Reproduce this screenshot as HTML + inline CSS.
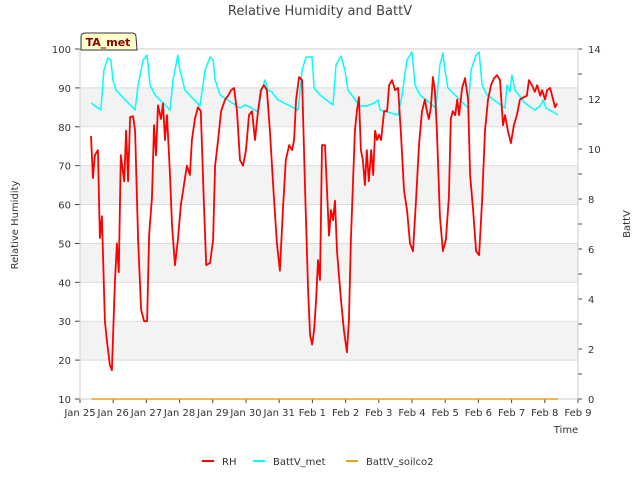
<!DOCTYPE html>
<html><head><meta charset="utf-8"><style>
body{margin:0;background:#fff;font-family:"Liberation Sans",sans-serif;}
svg text{font-family:"DejaVu Sans","Liberation Sans",sans-serif;}
</style></head><body>
<svg id="c" width="640" height="480" xmlns="http://www.w3.org/2000/svg"></svg>
<script>
const xTickLabels=["Jan 25","Jan 26","Jan 27","Jan 28","Jan 29","Jan 30","Jan 31","Feb 1","Feb 2","Feb 3","Feb 4","Feb 5","Feb 6","Feb 7","Feb 8","Feb 9"];
const leftTicks=[10,20,30,40,50,60,70,80,90,100];
const rightTicks=[0,2,4,6,8,10,12,14];
const rhDays=[0.33,0.39,0.45,0.54,0.60,0.66,0.75,0.81,0.90,0.96,1.05,1.11,1.17,1.23,1.33,1.39,1.45,1.51,1.60,1.66,1.75,1.84,1.93,2.02,2.08,2.17,2.23,2.29,2.35,2.44,2.50,2.56,2.62,2.71,2.77,2.86,2.95,3.04,3.13,3.22,3.31,3.37,3.46,3.55,3.64,3.73,3.80,3.92,4.01,4.07,4.16,4.25,4.37,4.46,4.55,4.64,4.73,4.82,4.91,5.00,5.09,5.18,5.27,5.36,5.45,5.54,5.63,5.72,5.81,5.93,6.02,6.11,6.20,6.30,6.39,6.45,6.51,6.60,6.69,6.78,6.87,6.93,6.99,7.05,7.11,7.17,7.23,7.29,7.38,7.44,7.50,7.56,7.62,7.68,7.74,7.86,7.95,8.04,8.10,8.16,8.22,8.28,8.34,8.40,8.46,8.52,8.58,8.64,8.70,8.77,8.83,8.89,8.95,9.01,9.07,9.16,9.25,9.31,9.40,9.49,9.58,9.67,9.76,9.85,9.94,10.03,10.12,10.21,10.30,10.39,10.45,10.51,10.57,10.63,10.69,10.75,10.84,10.93,11.02,11.11,11.17,11.23,11.30,11.36,11.42,11.51,11.60,11.69,11.75,11.84,11.93,12.02,12.11,12.20,12.29,12.38,12.47,12.56,12.65,12.74,12.80,12.89,12.98,13.07,13.16,13.25,13.37,13.46,13.52,13.61,13.70,13.77,13.86,13.92,14.01,14.07,14.16,14.25,14.31,14.37];
const rhValues=[77.6,66.8,72.7,74,51.4,57,30,25,18.7,17.4,40,50,42.6,72.7,66,79,66,82.5,82.7,79,51,33,30,30,52,62,80.4,72.7,85.5,82,86,76.6,83,67.6,54.7,44.4,51,60,65,70,67.6,76.6,82,85,84,61,44.4,45,51,70,76.6,84,87,88,89.4,90,84,71.4,70,74,83,84,76.6,84,89.4,90.7,89.4,79,66,50,43,58.6,71.4,75.3,74,76.6,87,92.8,92,63.7,38,26.4,24,27.7,35.4,45.7,40.6,75.3,75.3,63.7,52,58.6,56,61,48,35.4,27.7,22,30,51,65,79,84,87.6,74,71.4,65,74,66,74,67.6,79,76.6,78,76.6,84,84,90.7,92,89.4,90,78,63.7,58.6,50,48,61,75.3,84,87,84,82,85,92.8,89.4,79,57,48,51,62,82,84,83,87,83,90,92.5,87,67.6,58.6,48,47,61,79,87,90.7,92.5,93.3,92,80.4,83,79,75.8,80.4,83,87,87.6,88,92,90.7,89,90.7,88,89.4,87,89.4,90,87,85,86];
const battDays=[0.33,0.63,0.72,0.84,0.93,0.99,1.08,1.36,1.66,1.75,1.90,2.02,2.11,2.26,2.71,2.80,2.95,3.01,3.16,3.61,3.77,3.92,4.01,4.07,4.22,4.82,4.97,5.12,5.36,5.48,5.57,5.66,5.78,5.96,6.57,6.69,6.81,6.99,7.05,7.23,7.62,7.71,7.86,7.98,8.07,8.43,8.64,8.86,8.98,9.04,9.58,9.70,9.85,10.00,10.09,10.24,10.72,10.84,10.93,10.99,11.08,11.69,11.78,11.93,12.02,12.11,12.26,12.80,12.86,12.95,13.01,13.10,13.40,13.70,13.86,13.95,14.04,14.40];
const battValues=[11.84,11.56,13.16,13.64,13.56,12.76,12.36,11.96,11.56,12.56,13.56,13.76,12.56,12.16,11.56,12.76,13.76,13.16,12.36,11.72,13.16,13.68,13.56,12.76,12.16,11.64,11.76,11.68,11.48,12.36,12.76,12.36,12.28,11.96,11.56,13.16,13.68,13.68,12.44,12.16,11.76,13.36,13.72,13.16,12.36,11.72,11.72,11.84,11.96,11.56,11.36,12.16,13.56,13.88,12.56,12.16,11.64,13.36,13.84,13.16,12.44,11.64,13.16,13.76,13.88,12.56,12.16,11.64,12.56,12.28,12.96,12.36,11.84,11.56,11.72,11.96,11.64,11.36];
const soilDays=[0.35,14.4];
const soilValues=[0,0];

const NS="http://www.w3.org/2000/svg";
const svg=document.getElementById('c');
const L=80,R=578,T=49,B=399;
const xs=d=>L+(R-L)*d/15;
const yl=v=>B-(B-T)*(v-10)/90;
const yr=v=>B-(B-T)*v/14;
function mk(tag,attrs,parent){const e=document.createElementNS(NS,tag);for(const k in attrs)e.setAttribute(k,attrs[k]);(parent||svg).appendChild(e);return e;}
function txt(s,attrs){const e=mk('text',attrs);e.textContent=s;return e;}

// bands
for(let v=20;v<100;v+=20){const b=mk('rect',{x:L,y:yl(v+10),width:R-L,height:yl(v)-yl(v+10),fill:'#f3f3f3'});

}
leftTicks.forEach(v=>{const g=mk('line',{x1:L,x2:R,y1:yl(v),y2:yl(v),stroke:'#dcdcdc','stroke-width':1});


mk('line',{x1:L-5,x2:L,y1:yl(v),y2:yl(v),stroke:'#444'});
const t=txt(v,{x:L-9,y:yl(v)+4,'text-anchor':'end','font-size':10,fill:'#333'});

});
for(let v=0;v<=14;v++){mk('line',{x1:R,x2:R+4,y1:yr(v),y2:yr(v),stroke:'#444'});}
rightTicks.forEach(v=>{const t=txt(v,{x:R+10,y:yr(v)+4,'font-size':10,fill:'#333'});

});
xTickLabels.forEach((s,i)=>{mk('line',{x1:xs(i),x2:xs(i),y1:B,y2:B+4,stroke:'#444'});
const t=txt(s,{x:xs(i),y:416,'text-anchor':'middle','font-size':10,fill:'#333'});

});
const frame=mk('rect',{x:L,y:T,width:R-L,height:B-T,fill:'none',stroke:'#ccc'});



function line(days,vals,ys,color,name,w){const p=days.map((d,i)=>(i?'L':'M')+xs(d).toFixed(1)+','+ys(vals[i]).toFixed(1)).join('');
const e=mk('path',{d:p,fill:'none',stroke:color,'stroke-width':w,'stroke-linejoin':'round'});

}
line(soilDays,soilValues,yr,'#e6a118','battv-soilco2-line',1.5);
line(battDays,battValues,yr,'#00ffff','battv-met-line',1.5);
line(rhDays,rhValues,yl,'#ff0000','rh-line',1.8);

let t=txt('Relative Humidity and BattV',{x:320,y:15,'text-anchor':'middle','font-size':13,fill:'#444'});


t=txt('Relative Humidity',{x:18,y:225,'text-anchor':'middle','font-size':10,fill:'#333',transform:'rotate(-90 18 225)'});


t=txt('BattV',{x:630,y:224,'text-anchor':'middle','font-size':10,fill:'#333',transform:'rotate(-90 630 224)'});


t=txt('Time',{x:566,y:433,'text-anchor':'middle','font-size':10,fill:'#333'});



const tag=mk('path',{d:'M81,50 L81,37 Q81,33 85,33 L132,33 Q136,33 136,37 L137,50 Z',fill:'#ffffcc',stroke:'#333'});


t=txt('TA_met',{x:108,y:46,'text-anchor':'middle','font-size':11,'font-weight':'bold',fill:'#8b0000'});



[['RH','#ff0000',202],['BattV_met','#00ffff',253],['BattV_soilco2','#e6a118',346]].forEach(([s,c,x])=>{
const l=mk('line',{x1:x,x2:x+12,y1:461,y2:461,stroke:c,'stroke-width':2});


const tt=txt(s,{x:x+20,y:465,'font-size':10,fill:'#333'});

});
</script>
</body></html>
